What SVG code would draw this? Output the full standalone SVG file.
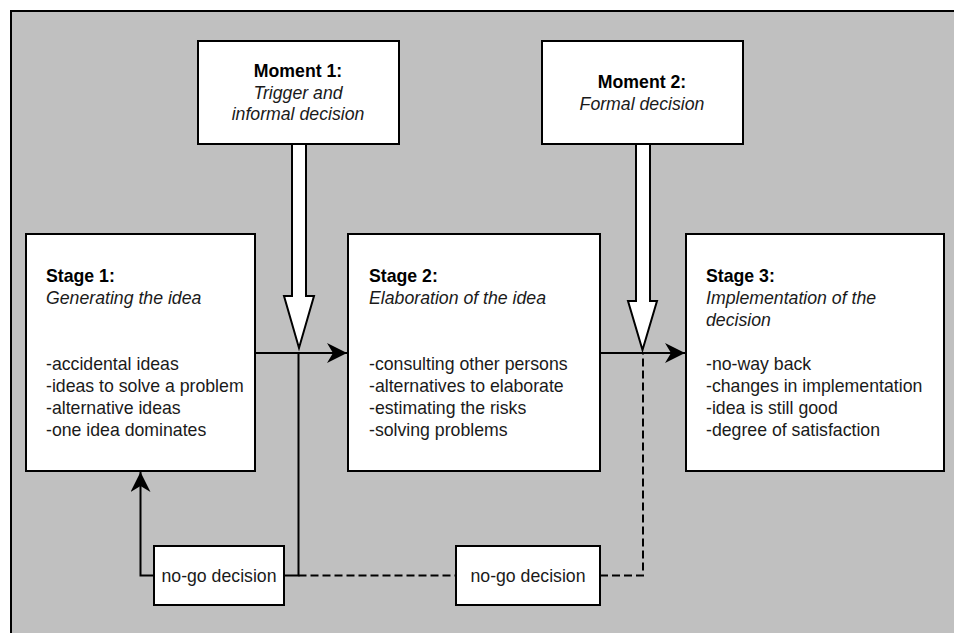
<svg xmlns="http://www.w3.org/2000/svg" width="954" height="633" viewBox="0 0 954 633">
<defs>
<style>
.box{fill:#fff;stroke:#000;stroke-width:2}
.t{font-family:"Liberation Sans",Arial,sans-serif;font-size:17.7px;fill:#1a1a1a}
.b{font-weight:bold;fill:#000}
.i{font-style:italic}
.c{text-anchor:middle}
.ln{fill:none;stroke:#000;stroke-width:2}
.dash{stroke-dasharray:8 4}
.big{fill:#fff;stroke:#000;stroke-width:2;stroke-linejoin:miter}
</style>
<marker id="ah" markerUnits="userSpaceOnUse" markerWidth="22" markerHeight="22" refX="20" refY="10" orient="auto" viewBox="0 0 22 22">
<path d="M0,0 L20,10 L0,20 L6,10 Z" fill="#000"/>
</marker>
</defs>
<rect x="11" y="11" width="960" height="640" fill="#c0c0c0" stroke="#000" stroke-width="2"/>

<g id="connectors">
<path class="ln" d="M255,353 H347" marker-end="url(#ah)"/>
<path class="ln" d="M600,353 H685" marker-end="url(#ah)"/>
<path class="ln" d="M298.5,353 V575.5 H284"/>
<path class="ln" d="M154,575.5 H140.5 V472" marker-end="url(#ah)"/>
<path class="ln dash" d="M298.5,575.5 H456"/>
<path class="ln dash" d="M600,575.5 H643 V353"/>
<path class="big" d="M292,144 H306 V296 H314 L299,348 L284,296 H292 Z"/>
<path class="big" d="M636,144 H650 V301 H657 L642.5,350 L628,301 H636 Z"/>
</g>

<g id="moment1">
<rect class="box" x="198" y="41" width="201" height="103"/>
<text class="t b c" x="298" y="77">Moment 1:</text>
<text class="t i c" x="298" y="99">Trigger and</text>
<text class="t i c" x="298" y="120">informal decision</text>
</g>

<g id="moment2">
<rect class="box" x="542" y="41" width="201" height="103"/>
<text class="t b c" x="642" y="88">Moment 2:</text>
<text class="t i c" x="642" y="110">Formal decision</text>
</g>

<g id="stage1">
<rect class="box" x="26" y="234" width="229" height="237"/>
<text class="t b" x="46" y="282">Stage 1:</text>
<text class="t i" x="46" y="304">Generating the idea</text>
<text class="t" x="46" y="370">-accidental ideas</text>
<text class="t" x="46" y="392">-ideas to solve a problem</text>
<text class="t" x="46" y="414">-alternative ideas</text>
<text class="t" x="46" y="436">-one idea dominates</text>
</g>

<g id="stage2">
<rect class="box" x="348" y="234" width="252" height="237"/>
<text class="t b" x="369" y="282">Stage 2:</text>
<text class="t i" x="369" y="304">Elaboration of the idea</text>
<text class="t" x="369" y="370">-consulting other persons</text>
<text class="t" x="369" y="392">-alternatives to elaborate</text>
<text class="t" x="369" y="414">-estimating the risks</text>
<text class="t" x="369" y="436">-solving problems</text>
</g>

<g id="stage3">
<rect class="box" x="686" y="234" width="258" height="237"/>
<text class="t b" x="706" y="282">Stage 3:</text>
<text class="t i" x="706" y="304">Implementation of the</text>
<text class="t i" x="706" y="326">decision</text>
<text class="t" x="706" y="370">-no-way back</text>
<text class="t" x="706" y="392">-changes in implementation</text>
<text class="t" x="706" y="414">-idea is still good</text>
<text class="t" x="706" y="436">-degree of satisfaction</text>
</g>

<g id="nogo1">
<rect class="box" x="154" y="546" width="130" height="59"/>
<text class="t c" x="219" y="582">no-go decision</text>
</g>

<g id="nogo2">
<rect class="box" x="456" y="546" width="144" height="59"/>
<text class="t c" x="528" y="582">no-go decision</text>
</g>
</svg>
